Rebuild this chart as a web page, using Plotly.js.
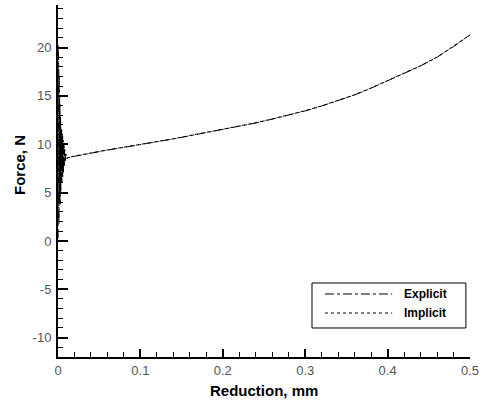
<!DOCTYPE html>
<html>
<head>
<meta charset="utf-8">
<script src="https://cdn.plot.ly/plotly-3.0.1.min.js"></script>
<style>
  html, body { margin: 0; padding: 0; background: #fff; }
  #chart { width: 483px; height: 402px; }
</style>
</head>
<body>
<div id="chart"></div>
<script>
// Force vs. reduction: explicit and implicit solutions
var explicitX = [
  0.0001, 0.0002, 0.0003, 0.0004, 0.0005, 0.0006, 0.0007, 0.0008, 0.0009, 0.0010,
  0.0011, 0.0012, 0.0013, 0.0014, 0.0015, 0.0016, 0.0017, 0.0018, 0.0019, 0.0020,
  0.0021, 0.0022, 0.0023, 0.0024, 0.0025, 0.0026, 0.0027, 0.0028, 0.0029, 0.0030,
  0.0031, 0.0032, 0.0033, 0.0034, 0.0035, 0.0036, 0.0037, 0.0038, 0.0039, 0.0040,
  0.0042, 0.0044, 0.0046, 0.0048, 0.0050, 0.0052, 0.0054, 0.0056, 0.0058, 0.0060,
  0.0062, 0.0064, 0.0066, 0.0068, 0.0070, 0.0072, 0.0074, 0.0076, 0.0078, 0.0080,
  0.0082, 0.0084, 0.0086, 0.0088, 0.0090, 0.0092, 0.0094, 0.0096, 0.0098, 0.0100,
  0.0110, 0.012, 0.02, 0.04, 0.06, 0.08, 0.10, 0.12, 0.14, 0.16, 0.18, 0.20,
  0.22, 0.24, 0.26, 0.28, 0.30, 0.32, 0.34, 0.36, 0.38, 0.40, 0.42, 0.44,
  0.46, 0.48, 0.50
];
var explicitY = [
  0.3, 20.2, 0.8, 19.6, 1.5, 19.0, 0.9, 18.3, 2.2, 17.8,
  1.7, 17.1, 2.9, 16.4, 2.5, 15.9, 3.4, 15.2, 3.0, 14.8,
  3.9, 14.3, 4.4, 13.9, 3.8, 13.5, 4.9, 13.1, 4.6, 12.8,
  5.3, 12.5, 5.0, 12.3, 5.7, 12.0, 5.4, 11.8, 6.0, 11.6,
  6.2, 11.5, 6.0, 11.3, 6.5, 11.0, 6.8, 10.9, 6.6, 10.6,
  7.1, 10.4, 7.0, 10.1, 7.4, 9.9, 7.6, 9.7, 7.8, 9.5,
  8.0, 9.3, 8.2, 9.1, 8.3, 9.0, 8.4, 8.9, 8.5, 8.8,
  8.55, 8.6, 8.75, 9.1, 9.4, 9.68, 9.95, 10.25, 10.55, 10.88, 11.2, 11.5,
  11.85, 12.2, 12.6, 13.0, 13.45, 13.95, 14.5, 15.1, 15.8, 16.55, 17.3, 18.1,
  19.0, 20.1, 21.3
];
var implicitX = [
  0.0005, 0.0015, 0.0025, 0.0035, 0.0045, 0.0055, 0.0065, 0.0075, 0.0085, 0.0095,
  0.011, 0.012, 0.02, 0.04, 0.06, 0.08, 0.10, 0.12, 0.14, 0.16, 0.18, 0.20,
  0.22, 0.24, 0.26, 0.28, 0.30, 0.32, 0.34, 0.36, 0.38, 0.40, 0.42, 0.44,
  0.46, 0.48, 0.50
];
var implicitY = [
  7.2, 10.6, 7.5, 10.1, 7.9, 9.7, 8.1, 9.3, 8.3, 9.0,
  8.5, 8.62, 8.78, 9.12, 9.42, 9.7, 9.97, 10.27, 10.57, 10.9, 11.22, 11.52,
  11.87, 12.22, 12.62, 13.02, 13.47, 13.97, 14.52, 15.12, 15.82, 16.57, 17.32, 18.12,
  19.02, 20.12, 21.3
];
var xTickVals = [0, 0.1, 0.2, 0.3, 0.4, 0.5];
var xTickText = ['0', '0.1', '0.2', '0.3', '0.4', '0.5'];
var yTickVals = [-10, -5, 0, 5, 10, 15, 20];
var yTickText = ['-10', '-5', '0', '5', '10', '15', '20'];
var seriesNames = ['Explicit', 'Implicit'];

var traces = [
  {
    x: explicitX, y: explicitY, name: seriesNames[0], type: 'scatter', mode: 'lines',
    line: { color: '#000', width: 1, dash: 'dashdot' }, showlegend: false
  },
  {
    x: implicitX, y: implicitY, name: seriesNames[1], type: 'scatter', mode: 'lines',
    line: { color: '#000', width: 1, dash: 'dot' }, showlegend: false
  }
];

var tickFont = { family: 'Liberation Sans, Arial, sans-serif', size: 13, color: '#555' };
var boldFont = { family: 'Liberation Sans, Arial, sans-serif', size: 15, color: '#000', weight: 'bold' };
var legFont = { family: 'Liberation Sans, Arial, sans-serif', size: 12, color: '#000', weight: 'bold' };

var layout = {
  width: 483, height: 402,
  margin: { l: 58, r: 13, t: 5, b: 45 },
  paper_bgcolor: '#fff', plot_bgcolor: '#fff',
  showlegend: false,
  xaxis: {
    range: [0, 0.5], tickvals: xTickVals, ticktext: xTickText,
    ticks: 'inside', ticklen: 8, tickwidth: 2, tickcolor: '#000',
    showline: true, linecolor: '#000', linewidth: 2, mirror: false,
    showgrid: false, zeroline: false, tickfont: tickFont, ticklabelstandoff: 0,
    minor: { dtick: 0.02, ticks: 'inside', ticklen: 5, tickwidth: 1, tickcolor: '#000', showgrid: false }
  },
  yaxis: {
    range: [-12, 24.4], tickvals: yTickVals, ticktext: yTickText,
    ticks: 'inside', ticklen: 10, tickwidth: 2, tickcolor: '#000',
    showline: true, linecolor: '#000', linewidth: 2, mirror: false,
    showgrid: false, zeroline: false, tickfont: tickFont, ticklabelstandoff: 2,
    minor: { dtick: 1, ticks: 'inside', ticklen: 5, tickwidth: 1, tickcolor: '#000', showgrid: false }
  },
  shapes: [
    { type: 'rect', xref: 'paper', yref: 'paper', x0: 0.6165, x1: 0.990, y0: 0.0824, y1: 0.2102,
      line: { color: '#000', width: 1 }, fillcolor: '#fff' },
    { type: 'line', xref: 'paper', yref: 'paper', x0: 0.648, x1: 0.811, y0: 0.179, y1: 0.179,
      line: { color: '#000', width: 1, dash: 'dashdot' } },
    { type: 'line', xref: 'paper', yref: 'paper', x0: 0.648, x1: 0.811, y0: 0.125, y1: 0.125,
      line: { color: '#000', width: 1, dash: 'dot' } }
  ],
  annotations: [
    { text: seriesNames[0], xref: 'paper', yref: 'paper', x: 0.835, y: 0.179,
      xanchor: 'left', yanchor: 'middle', showarrow: false, font: legFont },
    { text: seriesNames[1], xref: 'paper', yref: 'paper', x: 0.835, y: 0.125,
      xanchor: 'left', yanchor: 'middle', showarrow: false, font: legFont },
    { text: 'Force, N', xref: 'paper', yref: 'paper', x: -0.095, y: 0.545, textangle: -90,
      xanchor: 'center', yanchor: 'middle', showarrow: false, font: boldFont },
    { text: 'Reduction, mm', xref: 'paper', yref: 'paper', x: 0.5, y: -0.0965,
      xanchor: 'center', yanchor: 'middle', showarrow: false, font: boldFont }
  ]
};

Plotly.newPlot('chart', traces, layout, { staticPlot: true, displayModeBar: false });
</script>
</body>
</html>
